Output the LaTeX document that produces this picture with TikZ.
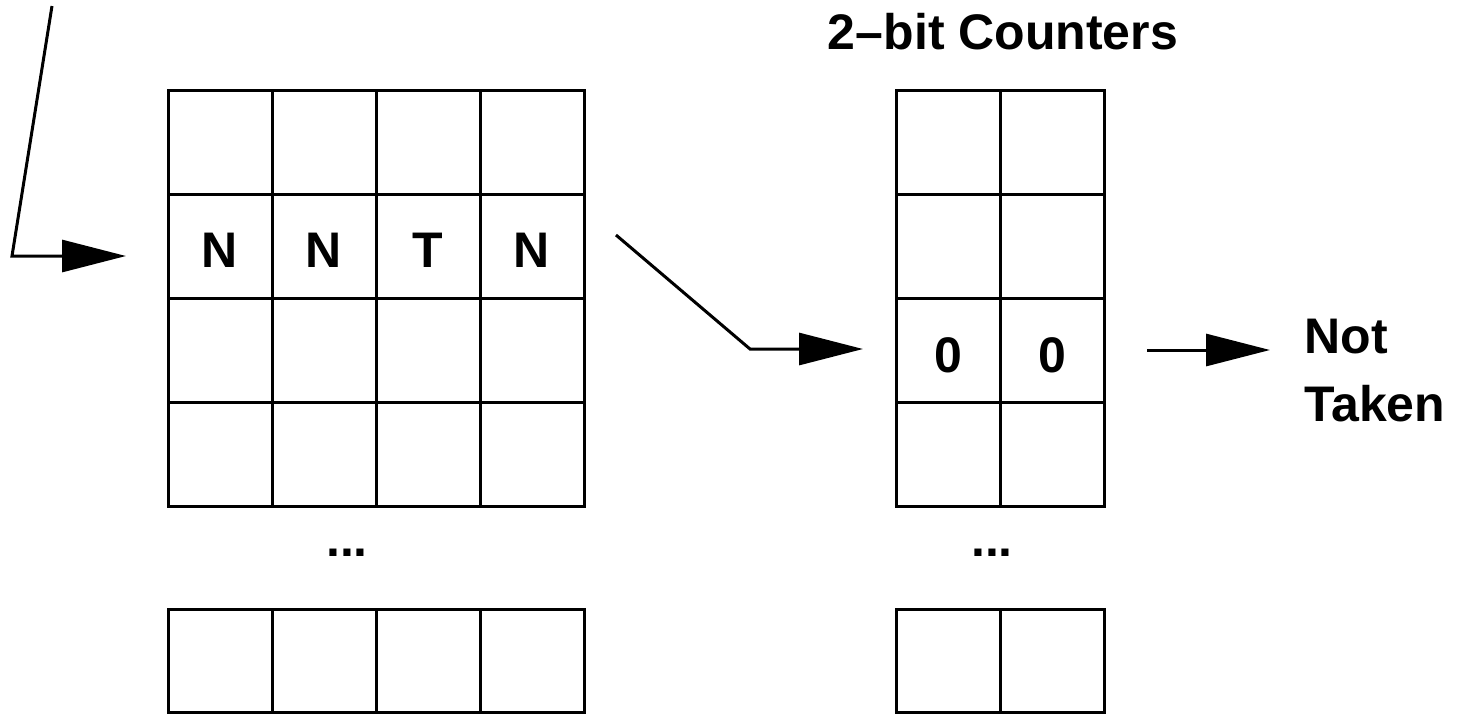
\documentclass[tikz,border=0pt]{standalone}
\usepackage{fontspec}
\setmainfont{Liberation Sans}
\usetikzlibrary{arrows.meta}
\begin{document}
\begin{tikzpicture}[x=0.5pt,y=-0.5pt,
  line/.style={line width=1.5pt, line join=miter},
  arr/.style={line, -{Triangle[length=32pt,width=16pt]}},
  lbl/.style={font=\fontsize{25}{34}\selectfont\bfseries, inner sep=0pt},
  cell/.style={line}]
\useasboundingbox (0,0) rectangle (1464,714);
% left table (4 columns)
\foreach \r in {0,...,3}{
  \foreach \c in {0,...,3}{
    \draw[cell] (168+104*\c,90+104*\r) rectangle ++(104,104);
  }
}
\foreach \c in {0,...,3}{
  \draw[cell] (168+104*\c,609) rectangle ++(104,103);
}
% right table (2 columns)
\foreach \r in {0,...,3}{
  \foreach \c in {0,1}{
    \draw[cell] (896+104*\c,90+104*\r) rectangle ++(104,104);
  }
}
\foreach \c in {0,1}{
  \draw[cell] (896+104*\c,609) rectangle ++(104,103);
}
% texts
\node[lbl] (n1) at (220,250) {N};
\node[lbl] (n2) at (324,250) {N};
\node[lbl] (t3) at (428,250) {T};
\node[lbl] (n4) at (532,250) {N};
\node[lbl] (z1) at (948,355) {0};
\node[lbl] (z2) at (1052,355) {0};
\node[lbl] (dl) at (347,553) {...};
\node[lbl] (dr) at (992,553) {...};
\node[lbl] (title) at (1003,32) {2--bit Counters};
\node[lbl, align=left, anchor=west] (nt) at (1304,371) {Not\\Taken};
% connectors
\coordinate (a0) at (52,6);
\coordinate (a1) at (12,256);
\coordinate (a2) at (126,256);
\draw[arr] (a0) -- (a1) -- (a2);
\coordinate (b0) at (616,235);
\coordinate (b1) at (750,349);
\coordinate (b2) at (863,349);
\draw[arr] (b0) -- (b1) -- (b2);
\coordinate (c0) at (1147,350);
\coordinate (c1) at (1270,350);
\draw[arr] (c0) -- (c1);
\end{tikzpicture}
\end{document}
